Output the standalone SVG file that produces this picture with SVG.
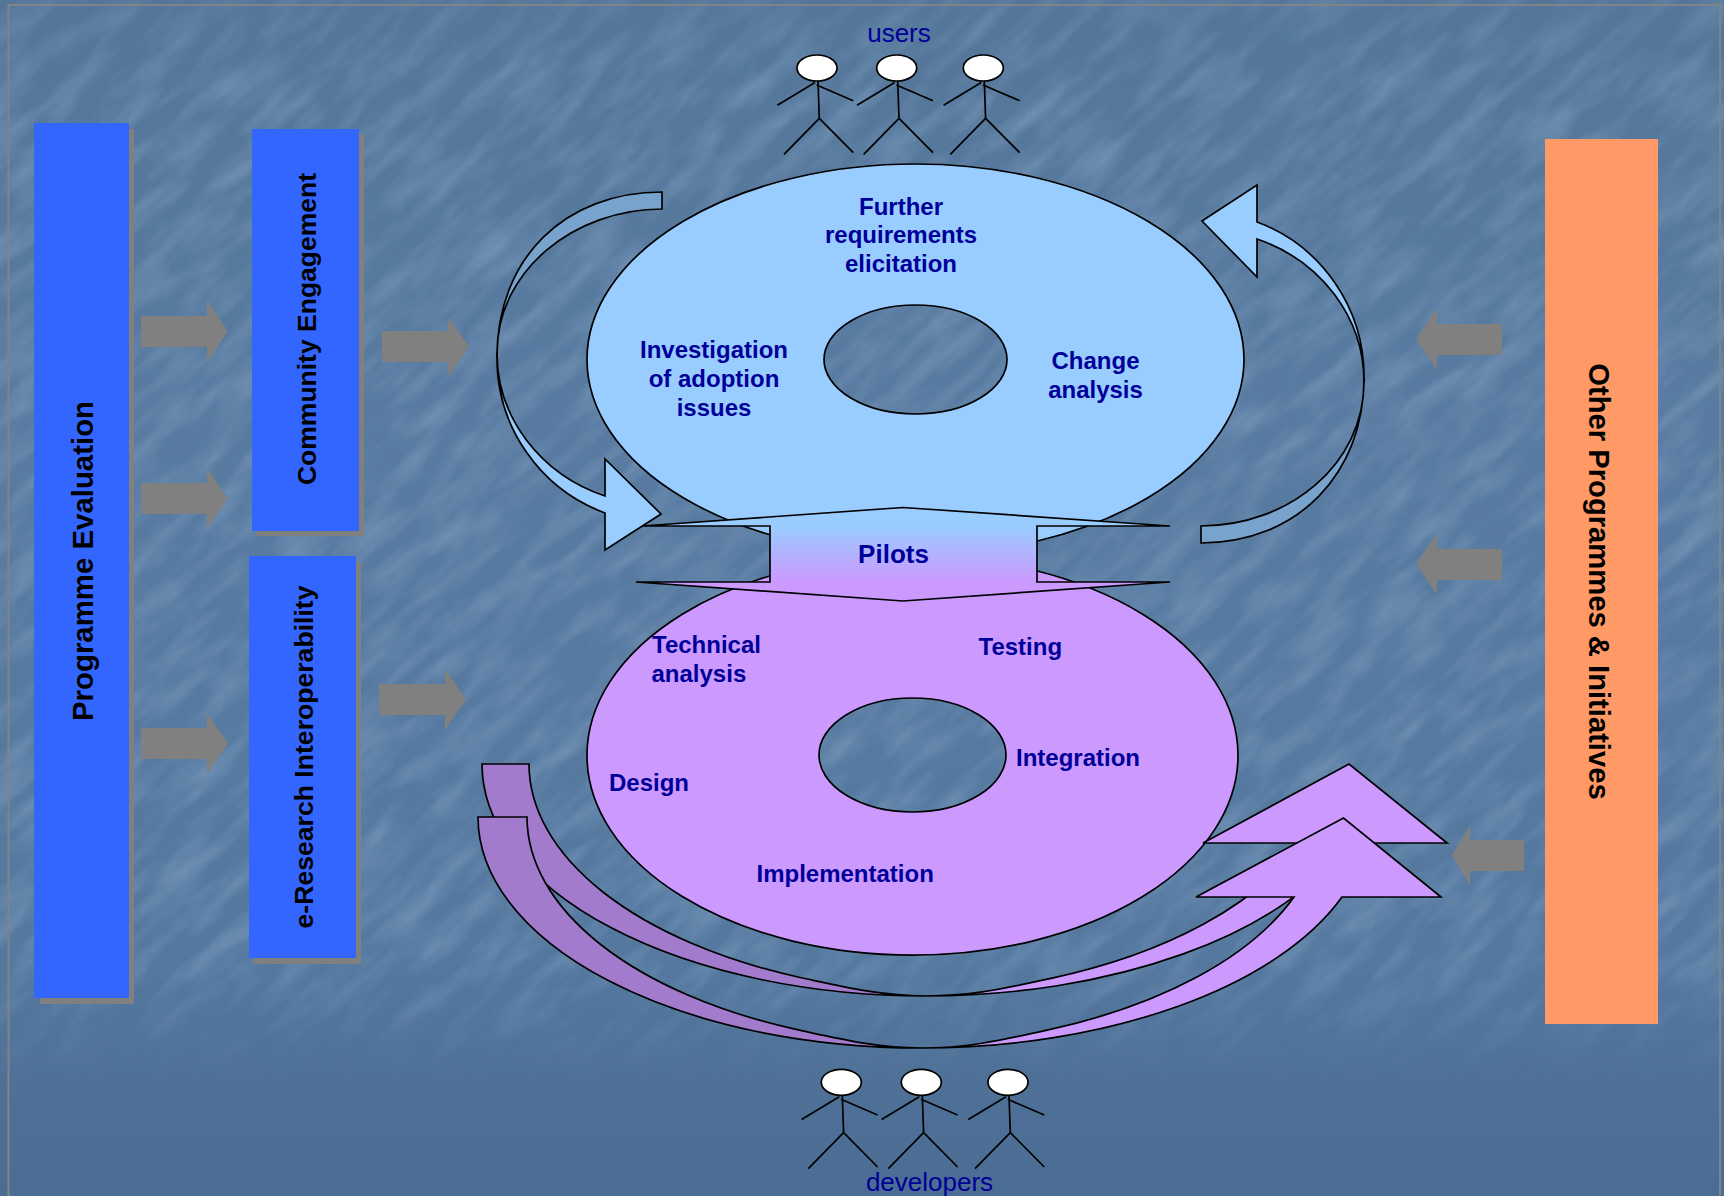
<svg xmlns="http://www.w3.org/2000/svg" width="1724" height="1196" viewBox="0 0 1724 1196">
<style>
.ol{stroke:#000;stroke-width:1.7;stroke-linejoin:miter}
.blue{fill:#99ccff}.blueb{fill:#77a3cc}.pur{fill:#cc99ff}.purb{fill:#a37bcc}
.arr{fill:#808080}.shadow{fill:#808080}
.lab{font-family:"Liberation Sans",Arial,sans-serif;font-weight:700;font-size:24px;fill:#000099}
.lab2{font-family:"Liberation Sans",Arial,sans-serif;font-size:26px;fill:#000099;text-anchor:middle}
.side{font-family:"Liberation Sans",Arial,sans-serif;font-weight:700;fill:#000;text-anchor:middle}
.m{text-anchor:middle}
.fig line{stroke:#000;stroke-width:1.7}
</style>
<defs>
<linearGradient id="bg" x1="0" y1="0" x2="0" y2="1">
<stop offset="0" stop-color="#537699"/><stop offset=".35" stop-color="#597ba1"/><stop offset=".8" stop-color="#55789f"/><stop offset=".9" stop-color="#4f7198"/><stop offset="1" stop-color="#4b6c93"/>
</linearGradient>
<linearGradient id="fade" x1="0" y1="0" x2="0" y2="1">
<stop offset="0" stop-color="#fff" stop-opacity=".6"/><stop offset=".08" stop-color="#fff"/><stop offset=".8" stop-color="#fff"/><stop offset=".9" stop-color="#fff" stop-opacity="0"/>
</linearGradient>
<mask id="fm" maskUnits="userSpaceOnUse" x="0" y="0" width="1724" height="1196"><rect width="1724" height="1196" fill="url(#fade)"/></mask>
<filter id="tex" filterUnits="userSpaceOnUse" x="-900" y="-900" width="3600" height="3000" color-interpolation-filters="sRGB">
<feTurbulence type="fractalNoise" baseFrequency="0.014 0.05" numOctaves="4" seed="11"/>
<feColorMatrix type="matrix" values="0 0 0 0 0.60  0 0 0 0 0.72  0 0 0 0 0.84  1.8 0 0 0 -0.66"/>
<feGaussianBlur stdDeviation="1"/>
</filter>
<linearGradient id="pg" gradientUnits="userSpaceOnUse" x1="0" y1="526" x2="0" y2="582">
<stop offset="0" stop-color="#99ccff"/><stop offset="1" stop-color="#cc99ff"/>
</linearGradient>
<g id="person" class="fig">
<ellipse cx="817" cy="68" rx="20" ry="13" fill="#fff" stroke="#000" stroke-width="1.7"/>
<line x1="818" y1="81" x2="819.3" y2="118.3"/>
<line x1="815" y1="82.5" x2="777.3" y2="105.3"/>
<line x1="816.7" y1="85" x2="853.3" y2="100.7"/>
<line x1="819.3" y1="118.3" x2="784" y2="154.3"/>
<line x1="819.3" y1="118.3" x2="853.3" y2="152.7"/>
</g>
</defs>
<g id="background">
<rect width="1724" height="1196" fill="url(#bg)"/>
<g mask="url(#fm)"><rect transform="rotate(-42 862 598)" x="-900" y="-900" width="3600" height="3000" filter="url(#tex)" opacity=".38"/></g>
<path d="M8.5,1196V5H1720V1196" fill="none" stroke="#808488" stroke-width="2"/>
</g>

<g id="programme-evaluation">
<rect class="shadow" x="40" y="129" width="94" height="875"/>
<rect x="34" y="123" width="95" height="875" fill="#3366ff"/>
<text class="side" font-size="29.4" transform="translate(92.5 561) rotate(-90)">Programme Evaluation</text>
</g>
<g id="community-engagement">
<rect class="shadow" x="257" y="134" width="107" height="402"/>
<rect x="252" y="129" width="107" height="402" fill="#3366ff"/>
<text class="side" font-size="26.5" transform="translate(315.5 329) rotate(-90)">Community Engagement</text>
</g>
<g id="eresearch-interoperability">
<rect class="shadow" x="254" y="562" width="107" height="402"/>
<rect x="249" y="556" width="107" height="402" fill="#3366ff"/>
<text class="side" font-size="26.6" transform="translate(312.5 757) rotate(-90)">e-Research Interoperability</text>
</g>
<g id="other-programmes">
<rect x="1545" y="139" width="113" height="885" fill="#ff9966"/>
<text class="side" font-size="29.2" transform="translate(1589 581.5) rotate(90)">Other Programmes &amp; Initiatives</text>
</g>

<g id="upper-cycle">
<path class="ol blue" fill-rule="evenodd" d="M587,359.5a328.5,195.5 0 1 0 657,0a328.5,195.5 0 1 0 -657,0ZM824,359.5a91.5,54.5 0 1 0 183,0a91.5,54.5 0 1 0 -183,0Z"/>
<g class="lab m">
<text x="901" y="215">Further</text><text x="901" y="243">requirements</text><text x="901" y="272">elicitation</text>
<text x="714" y="358">Investigation</text><text x="714" y="387">of adoption</text><text x="714" y="416">issues</text>
<text x="1095.5" y="369">Change</text><text x="1095.5" y="398">analysis</text>
</g>
</g>
<g id="lower-cycle">
<path class="ol pur" fill-rule="evenodd" d="M587,755.4a325.5,199.6 0 1 0 651,0a325.5,199.6 0 1 0 -651,0ZM819,755a93.5,57 0 1 0 187,0a93.5,57 0 1 0 -187,0Z"/>
<g class="lab">
<text x="652" y="653">Technical</text><text x="651.5" y="682">analysis</text>
<text x="978.5" y="655">Testing</text>
<text x="1016" y="766">Integration</text>
<text x="609" y="791">Design</text>
<text x="756.5" y="882">Implementation</text>
</g>
</g>
<g id="pilots">
<path class="ol" fill="url(#pg)" d="M642,526L903,507.5L1170,526H1037V582H1170L903,601L636,582H770V526Z"/>
<text class="lab m" style="font-size:26px" x="893.5" y="563">Pilots</text>
</g>

<g id="users">
<text class="lab2" x="899" y="42">users</text>
<use href="#person"/><use href="#person" x="79.7"/><use href="#person" x="166.3"/>
</g>
<g id="developers">
<use href="#person" x="24.3" y="1014.3"/><use href="#person" x="104.3" y="1014.3"/><use href="#person" x="191" y="1014.3"/>
<text class="lab2" x="929.5" y="1191">developers</text>
</g>

<g id="connectors">
<g id="flow-arrows" class="arr">
<path d="M141,316H207V300L228,331L207,362V347H141Z"/>
<path d="M141,483H207V468L228,498.5L207,529V514H141Z"/>
<path d="M141,728H207V713L228,743.5L207,774V759H141Z"/>
<path d="M382,331H448V317L469,346.5L448,377V362H382Z"/>
<path d="M379,684H445V669L466,699.5L445,730V715H379Z"/>
<path d="M1502,324H1437V308L1416,339L1437,370V355H1502Z"/>
<path d="M1502,549H1437V533L1416,564L1437,595V580H1502Z"/>
<path d="M1524,840H1470V825L1452,855L1470,885V871H1524Z"/>
</g>
<g id="curved-left">
<path class="ol blueb" d="M662,192V209C575,209 497,270 497,353L497,357C497,258 565,192 662,192Z"/>
<path class="ol blue" d="M497,357A165,165 0 0 0 605,513V550L661,514L605,459V496A165,152 0 0 1 497,353Z"/>
</g>
<g id="curved-right">
<path class="ol blueb" d="M1201,543V526C1288,526 1364,465 1364,382L1364,378C1364,473 1298,543 1201,543Z"/>
<path class="ol blue" d="M1364,378A163,165 0 0 0 1257,222V185L1202,221L1257,277V239A163,152 0 0 1 1364,382Z"/>
</g>
<g id="curved-lower-1">
<path class="ol purb" d="M482,764H529A445,232 0 0 0 800,977.5C840,986 880,996 925,996A443,232 0 0 1 482,764Z"/>
<path class="ol pur" d="M925,996C975,996 1010,987 1050,978.6A447,232 0 0 0 1300.5,843H1203L1349,764L1447,843H1348A450,232 0 0 1 925,996Z"/>
</g>
<g id="curved-lower-2">
<path class="ol purb" d="M478,817H527A443,231 0 0 0 796,1029.4C836,1038 876,1048 921,1048A443,231 0 0 1 478,817Z"/>
<path class="ol pur" d="M921,1048C971,1048 1006,1039 1046,1030.4A447,231 0 0 0 1294,897H1196L1343.5,818L1441,897H1342A449,231 0 0 1 921,1048Z"/>
</g>
</g>
</svg>
